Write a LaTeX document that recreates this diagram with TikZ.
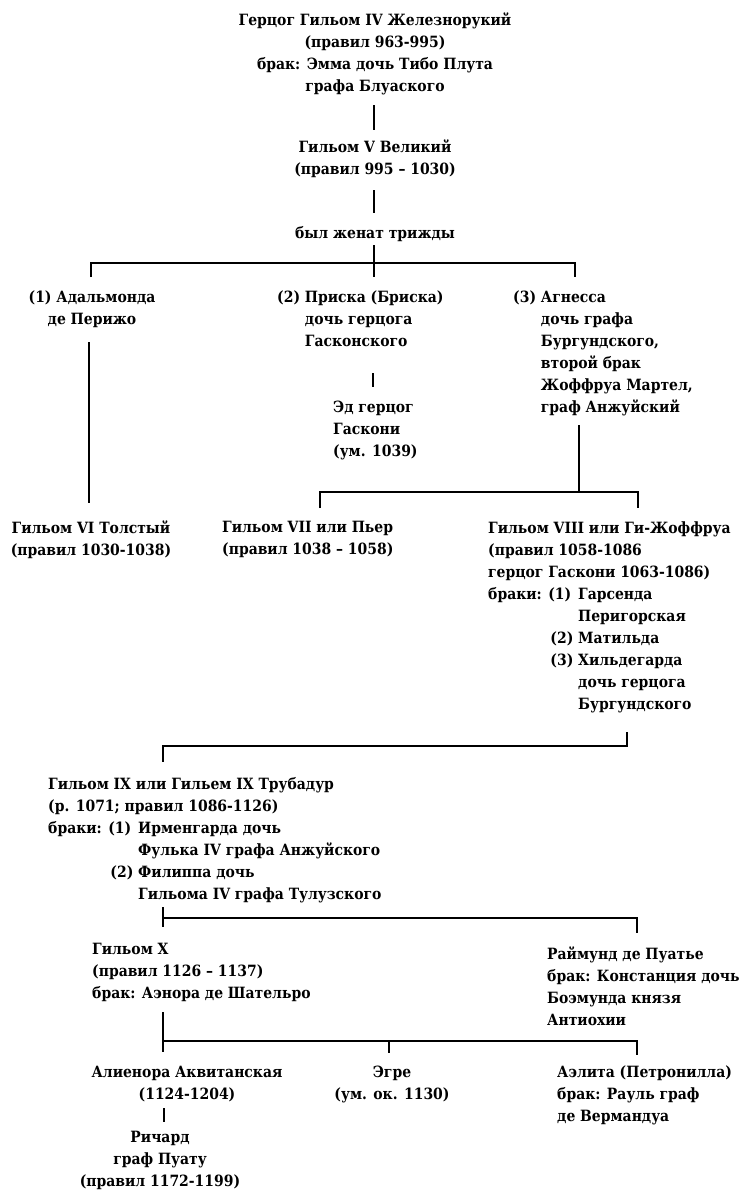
\documentclass[tikz,border=0pt]{standalone}
\usepackage{fontspec}
\setmainfont{DejaVu Serif Condensed}
\newcommand\pfont{\fontsize{15.5}{22}\selectfont\bfseries}
\begin{document}
\begin{tikzpicture}[x=1pt,y=-1pt,
  pers/.style={inner sep=0pt, font=\pfont, align=left, anchor=north west, execute at begin node=\strut},
  cpers/.style={inner sep=0pt, font=\pfont, align=center, anchor=north, execute at begin node=\strut},
  link/.style={line width=2.2pt}]
\useasboundingbox[fill=white] (0,0) rectangle (743,1191);

% people
\node[cpers] (g4) at (375,13) {Герцог Гильом IV Железнорукий\\(правил 963-995)\\брак: Эмма дочь Тибо Плута\\графа Блуаского};
\node[cpers] (g5) at (375,140) {Гильом V Великий\\(правил 995 – 1030)};
\node[cpers] (mar) at (375,223) {был женат трижды};
\node[cpers] (w1) at (92,290.5) {(1) Адальмонда\\де Перижо};
\node[pers] (w2) at (277,290.5) {(2) Приска (Бриска)\\\phantom{(2) }дочь герцога\\\phantom{(2) }Гасконского};
\node[pers] (w3) at (513,290.5) {(3) Агнесса\\\phantom{(3) }дочь графа\\\phantom{(3) }Бургундского,\\\phantom{(3) }второй брак\\\phantom{(3) }Жоффруа Мартел,\\\phantom{(3) }граф Анжуйский};
\node[pers] (ed) at (333,400.5) {Эд герцог\\Гаскони\\(ум. 1039)};
\node[cpers] (g6) at (91,521) {Гильом VI Толстый\\(правил 1030-1038)};
\node[pers] (g7) at (222,521) {Гильом VII или Пьер\\(правил 1038 – 1058)};
\node[pers] (g8) at (488,521.5) {Гильом VIII или Ги-Жоффруа\\(правил 1058-1086\\герцог Гаскони 1063-1086)\\\makebox[90pt][l]{браки: (1)}Гарсенда\\\hspace*{90pt}Перигорская\\\makebox[90pt][r]{(2)\ }Матильда\\\makebox[90pt][r]{(3)\ }Хильдегарда\\\hspace*{90pt}дочь герцога\\\hspace*{90pt}Бургундского};
\node[pers] (g9) at (48,777.5) {Гильом IX или Гильем IX Трубадур\\(р. 1071; правил 1086-1126)\\\makebox[90pt][l]{браки: (1)}Ирменгарда дочь\\\hspace*{90pt}Фулька IV графа Анжуйского\\\makebox[90pt][r]{(2)\ }Филиппа дочь\\\hspace*{90pt}Гильома IV графа Тулузского};
\node[pers] (g10) at (92,942.5) {Гильом X\\(правил 1126 – 1137)\\брак: Аэнора де Шательро};
\node[pers] (ray) at (547,946.5) {Раймунд де Пуатье\\брак: Констанция дочь\\Боэмунда князя\\Антиохии};
\node[cpers] (ali) at (187,1066) {Алиенора Аквитанская\\(1124-1204)};
\node[cpers] (ric) at (160,1131) {Ричард\\граф Пуату\\(правил 1172-1199)};
\node[cpers] (egr) at (392,1066) {Эгре\\(ум. ок. 1130)};
\node[pers] (ael) at (557,1066) {Аэлита (Петронилла)\\брак: Рауль граф\\де Вермандуа};

% connector points
\coordinate (g4d) at (374,105);  \coordinate (g5u) at (374,130);
\coordinate (g5d) at (374,190);  \coordinate (maru) at (374,213);
\coordinate (mard) at (374,245); \coordinate (w2u) at (374,277);
\coordinate (w1u) at (91,277);   \coordinate (w1bar) at (91,263);
\coordinate (w3bar) at (575,263); \coordinate (w3u) at (575,277);
\coordinate (w1d) at (89,342);   \coordinate (g6u) at (89,503);
\coordinate (w2d) at (373,373);  \coordinate (edu) at (373,387);
\coordinate (w3d) at (579,425);  \coordinate (w3j) at (579,492);
\coordinate (g7u) at (320,508);  \coordinate (g7bar) at (320,492);
\coordinate (g8bar) at (638,492); \coordinate (g8u) at (638,508);
\coordinate (g8d) at (627,732);  \coordinate (g8j) at (627,746);
\coordinate (g9bar) at (163,746); \coordinate (g9u) at (163,762);
\coordinate (g9d) at (163,907);  \coordinate (g10u) at (163,927);
\coordinate (g9j) at (163,918);  \coordinate (raybar) at (637,918); \coordinate (rayu) at (637,933);
\coordinate (g10d) at (163,1012); \coordinate (aliu) at (163,1052);
\coordinate (g10j) at (163,1041); \coordinate (aelbar) at (637,1041); \coordinate (aelu) at (637,1055);
\coordinate (egrbar) at (389,1041); \coordinate (egru) at (389,1053);
\coordinate (alid) at (164,1108); \coordinate (ricu) at (164,1122);

% connectors
\draw[link] (g4d) -- (g5u);
\draw[link] (g5d) -- (maru);
\draw[link] (mard) -- (w2u);
\draw[link] (w1u) -- (w1bar) -- (w3bar) -- (w3u);
\draw[link] (w1d) -- (g6u);
\draw[link] (w2d) -- (edu);
\draw[link] (w3d) -- (w3j);
\draw[link] (g7u) -- (g7bar) -- (g8bar) -- (g8u);
\draw[link] (g8d) -- (g8j) -- (g9bar) -- (g9u);
\draw[link] (g9d) -- (g10u);
\draw[link] (g9j) -- (raybar) -- (rayu);
\draw[link] (g10d) -- (aliu);
\draw[link] (g10j) -- (aelbar) -- (aelu);
\draw[link] (egrbar) -- (egru);
\draw[link] (alid) -- (ricu);
\end{tikzpicture}
\end{document}
